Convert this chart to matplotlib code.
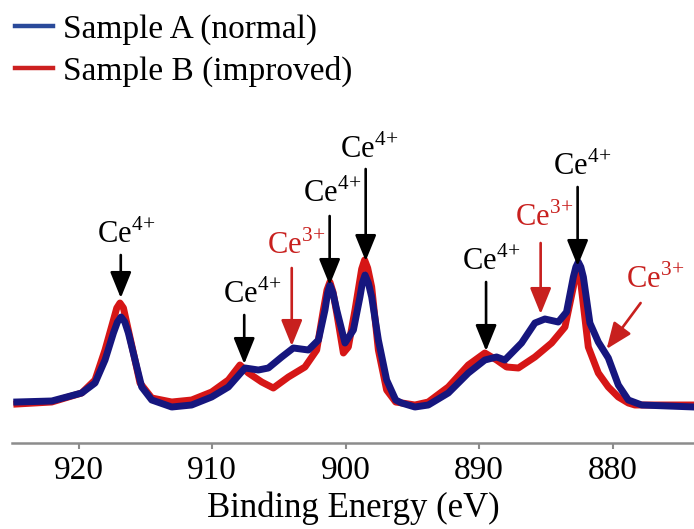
import matplotlib
matplotlib.use('Agg')
import matplotlib.pyplot as plt
from matplotlib.lines import Line2D

plt.rcParams['font.family'] = ['Liberation Serif', 'DejaVu Serif']
plt.rcParams['mathtext.fontset'] = 'custom'
plt.rcParams['mathtext.rm'] = 'Liberation Serif'

# binding energy (eV) and intensity (a.u., baseline = 0)
energy_a = [924.64, 922.02, 919.78, 918.78, 918.03, 917.40, 917.10, 916.83, 916.55,
            916.28, 915.78, 915.28, 914.53, 913.03, 911.54, 910.04, 908.79, 907.54,
            906.54, 905.79, 904.79, 903.92, 902.79, 902.04, 901.55, 901.35, 901.18,
            900.95, 900.67, 900.05, 899.42, 898.93, 898.75, 898.55, 898.30, 898.05,
            897.55, 896.93, 896.25, 895.81, 894.81, 893.81, 892.31, 890.81, 889.57,
            888.69, 888.07, 886.82, 885.82, 885.07, 884.07, 883.45, 882.94, 882.75,
            882.57, 882.38, 882.19, 881.70, 881.07, 880.32, 879.57, 878.82, 877.82,
            873.86]
sample_a = [3, 4, 12, 22, 45, 72, 83, 88, 83,
            72, 45, 18, 5, -2, 0, 8, 18, 37,
            35, 37, 48, 57, 55, 65, 95, 112, 120,
            112, 95, 62, 75, 108, 122, 130, 122, 108,
            65, 25, 5, 2, -2, 0, 12, 32, 45,
            48, 45, 62, 82, 86, 83, 93, 128, 138,
            143, 138, 128, 82, 63, 47, 20, 5, 0,
            -2]

energy_b = [924.64, 922.02, 919.78, 918.78, 918.03, 917.40, 917.15, 916.91, 916.65,
            916.40, 915.90, 915.41, 914.53, 913.03, 911.54, 910.04, 908.79, 907.92,
            907.29, 906.29, 905.42, 904.29, 903.05, 902.17, 901.67, 901.40, 901.18,
            900.95, 900.67, 900.17, 899.80, 899.30, 898.80, 898.58, 898.35, 898.05,
            897.55, 896.93, 896.25, 894.81, 893.81, 892.31, 890.81, 889.57, 888.69,
            887.94, 887.06, 885.82, 884.57, 883.57, 882.94, 882.80, 882.62, 882.45,
            882.32, 881.82, 881.07, 880.32, 879.57, 878.82, 878.33, 873.86]
sample_b = [1, 3, 12, 25, 55, 85, 97, 102, 97,
            82, 52, 22, 7, 3, 5, 13, 25, 40,
            32, 23, 17, 28, 38, 55, 95, 115, 123,
            113, 92, 52, 58, 95, 136, 145, 137, 118,
            55, 15, 3, 0, 3, 18, 40, 52, 45,
            38, 37, 48, 62, 78, 118, 128, 135, 130,
            115, 58, 32, 18, 8, 2, 0, 0]

# (label, colour, text E, text y, arrow E start, y start, arrow E end, y end)
peaks = [
    ('4', 'k', 918.65, 155, 916.85, 150, 916.85, 107),
    ('4', 'k', 909.20, 95, 907.60, 90, 907.60, 41),
    ('3', 'r', 905.90, 144, 904.04, 137, 904.04, 59),
    ('4', 'k', 903.20, 196, 901.20, 189, 901.20, 120),
    ('4', 'k', 900.45, 240, 898.50, 236, 898.50, 144),
    ('4', 'k', 891.31, 128, 889.48, 123, 889.48, 54),
    ('3', 'r', 887.34, 172, 885.39, 162, 885.39, 91),
    ('4', 'k', 884.49, 223, 882.62, 218, 882.62, 139),
    ('3', 'r', 879.03, 110, 877.90, 102, 880.45, 56),
]

blue = '#16167e'
red = '#d61616'
ann_red = '#c8201e'

fig = plt.figure(figsize=(6.94, 5.29), dpi=100)
ax = fig.add_axes([12 / 694, 86 / 529, 682 / 694, 443 / 529])

ax.plot(energy_b, sample_b, color=red, lw=5, solid_joinstyle='round')
ax.plot(energy_a, sample_a, color=blue, lw=5, solid_joinstyle='round')

for sup, c, tx, ty, x0, y0, x1, y1 in peaks:
    col = ann_red if c == 'r' else 'k'
    ax.text(tx, ty, r'$\mathrm{Ce}^{%s\!+}$' % sup, color=col, fontsize=22,
            ha='left', va='bottom')
    ax.annotate('', xy=(x1, y1), xytext=(x0, y0),
                arrowprops=dict(arrowstyle='-|>,head_length=1.6,head_width=0.65',
                                mutation_scale=10, lw=1.9, color=col,
                                shrinkA=0, shrinkB=0))

ax.set_xlim(925, 873.9)
ax.set_ylim(-38, 405)
ax.set_xticks([920, 910, 900, 890, 880])
ax.tick_params(axis='x', direction='out', length=4, width=1.5, color='#8c8c8c',
               labelsize=24, pad=5)
ax.set_yticks([])
for s in ['left', 'right', 'top']:
    ax.spines[s].set_visible(False)
ax.spines['bottom'].set_color('#8c8c8c')
ax.spines['bottom'].set_linewidth(1.8)
ax.set_xlabel('Binding Energy (eV)', fontsize=25, labelpad=4)
ax.patch.set_alpha(0)

handles = [Line2D([], [], color='#2a4a9a', lw=3.2),
           Line2D([], [], color='#cc2020', lw=3.2)]
fig.legend(handles, ['Sample A (normal)', 'Sample B (improved)'],
           loc='upper left', bbox_to_anchor=(15 / 694, 1 - 14 / 529),
           frameon=False, fontsize=24, handlelength=1.15, handletextpad=0.3,
           labelspacing=0.34, borderpad=0, borderaxespad=0)

fig.savefig('out.png', dpi=100)
